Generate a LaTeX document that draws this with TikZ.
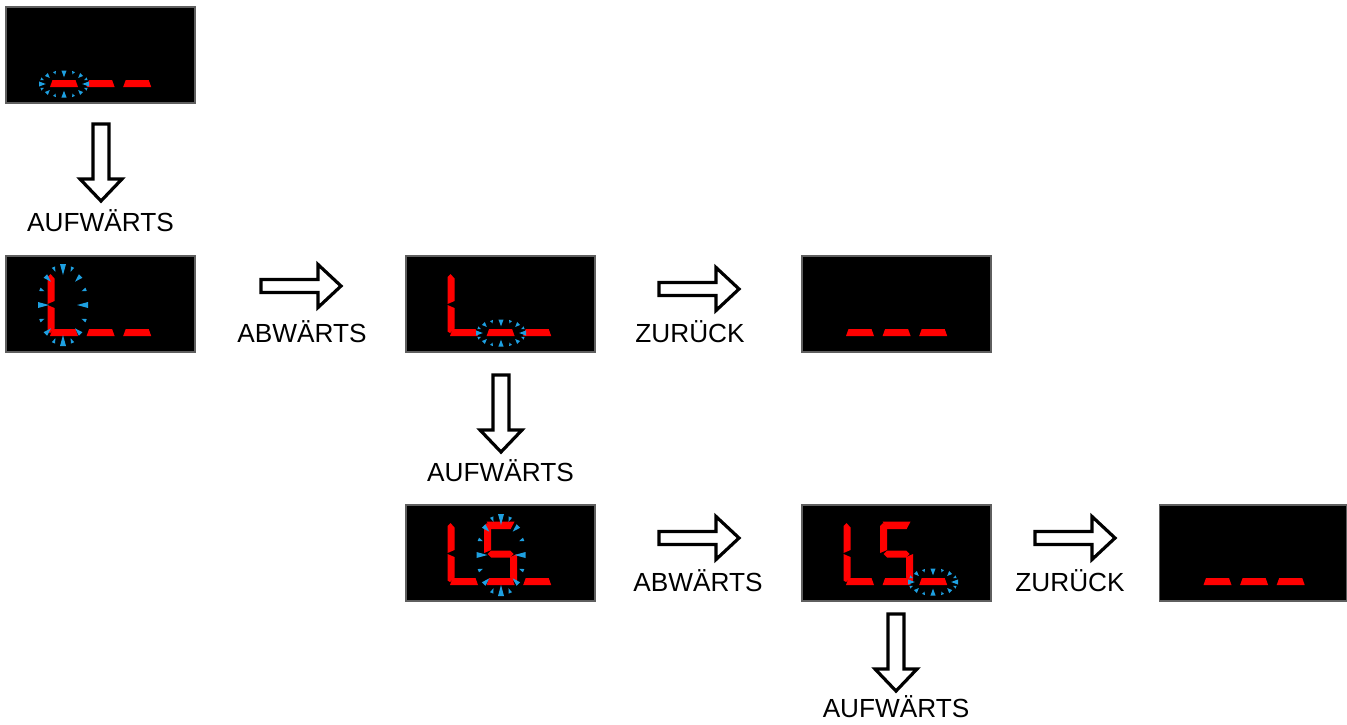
\documentclass[tikz,border=0pt]{standalone}
\usepackage{fontspec}
\setmainfont{Liberation Sans}
\definecolor{segred}{RGB}{255,0,0}
\definecolor{blink}{RGB}{30,160,225}
\definecolor{framegray}{RGB}{95,95,95}
% seven-segment pieces, local coords (digit left x = 0, box top y = 0)
\newcommand{\sgA}{\fill[segred] (0,16.5) -- (28,16.5) -- (24,24) -- (4,24) -- cycle;}
\newcommand{\sgD}{\fill[segred] (2.5,73) -- (25.5,73) -- (28,80) -- (0,80) -- cycle;}
\newcommand{\sgG}{\fill[segred] (1,49) -- (4.5,45.5) -- (23.5,45.5) -- (27,49) -- (23.5,52.5) -- (4.5,52.5) -- cycle;}
\newcommand{\sgF}{\fill[segred] (-2.5,21) -- (0.5,18) -- (4.5,22.5) -- (4.5,45) -- (-2.5,48) -- cycle;}
\newcommand{\sgE}{\fill[segred] (-2.5,49) -- (4.5,52) -- (4.5,72.5) -- (0,77) -- (-2.5,75.5) -- cycle;}
\newcommand{\sgC}{\fill[segred] (30.5,49) -- (23.5,52) -- (23.5,72.5) -- (28,77) -- (30.5,75.5) -- cycle;}
\newcommand{\digitat}[2]{\begin{scope}[shift={({44+36.6*#1},0)}]#2\end{scope}}
\newcommand{\digL}{\sgF\sgE\sgD}
\newcommand{\digS}{\sgA\sgF\sgG\sgC\sgD}
% blinking ring: centre x, centre y, rx, ry, length scale, width scale
\newcommand{\blinkring}[6]{%
  \foreach \a/\l/\w in {0/11/3,22.5/5/1.8,45/8/2.5,67.5/5/1.8,90/11/3,112.5/5/1.8,135/8/2.5,157.5/5/1.8,180/11/3,202.5/5/1.8,225/8/2.5,247.5/5/1.8,270/11/3,292.5/5/1.8,315/8/2.5,337.5/5/1.8}{%
    \fill[blink] ({#1+(#3-#5*\l)*cos(\a)},{#2+(#4-#5*\l)*sin(\a)})
      -- ({#1+#3*cos(\a)-#6*\w*sin(\a)},{#2+#4*sin(\a)+#6*\w*cos(\a)})
      -- ({#1+#3*cos(\a)+#6*\w*sin(\a)},{#2+#4*sin(\a)-#6*\w*cos(\a)}) -- cycle;}}
\tikzset{
  disp/.style={draw=framegray, line width=0.6pt, fill=black, minimum width=94.5pt,
    minimum height=48pt, inner sep=0pt, outer sep=0pt, anchor=north west},
  lbl/.style={anchor=base, inner sep=0pt, font=\fontsize{13.1}{15}\selectfont},
  blockarrow/.style={draw=black, line width=1.6pt, fill=white, line join=miter},
  rarrow/.pic={\path[blockarrow] (0,-6.5) -- (57,-6.5) -- (57,-21.5) -- (80,0) -- (57,21.5) -- (57,6.5) -- (0,6.5) -- cycle;},
  darrow/.pic={\path[blockarrow] (-8,0) -- (-8,55) -- (-21,55) -- (0,77) -- (21,55) -- (8,55) -- (8,0) -- cycle;}
}
\begin{document}
\begin{tikzpicture}[x=0.5pt,y=-0.5pt]
\useasboundingbox (0,0) rectangle (1347,724);
% displays
\node[disp] (d1) at (6,7) {};
\node[disp] (d2) at (6,256) {};
\node[disp] (d3) at (406,256) {};
\node[disp] (d4) at (802,256) {};
\node[disp] (d5) at (406,505) {};
\node[disp] (d6) at (802,505) {};
\node[disp, minimum width=93.5pt] (d7) at (1159.5,505) {};
% display contents
\begin{scope}[shift={(d1.north west)}]
  \digitat{0}{\sgD}\digitat{1}{\sgD}\digitat{2}{\sgD}
  \blinkring{58}{77}{25}{13.5}{0.62}{0.85}
\end{scope}
\begin{scope}[shift={(d2.north west)}]
  \digitat{0}{\digL}\digitat{1}{\sgD}\digitat{2}{\sgD}
  \blinkring{57}{49}{25}{41}{1}{1}
\end{scope}
\begin{scope}[shift={(d3.north west)}]
  \digitat{0}{\digL}\digitat{1}{\sgD}\digitat{2}{\sgD}
  \blinkring{95}{77}{25}{13.5}{0.62}{0.85}
\end{scope}
\begin{scope}[shift={(d4.north west)}]
  \digitat{0}{\sgD}\digitat{1}{\sgD}\digitat{2}{\sgD}
\end{scope}
\begin{scope}[shift={(d5.north west)}]
  \digitat{0}{\digL}\digitat{1}{\digS}\digitat{2}{\sgD}
  \blinkring{95}{50}{24.5}{41}{1}{1}
\end{scope}
\begin{scope}[shift={(d6.north west)}]
  \digitat{0}{\digL}\digitat{1}{\digS}\digitat{2}{\sgD}
  \blinkring{131}{77}{25}{13.5}{0.62}{0.85}
\end{scope}
\begin{scope}[shift={(d7.north west)}]
  \digitat{0}{\sgD}\digitat{1}{\sgD}\digitat{2}{\sgD}
\end{scope}
% block arrows
\pic (a1) at (101,124) {darrow};
\pic (a2) at (261,286) {rarrow};
\pic (a3) at (659,289) {rarrow};
\pic (a4) at (501,375) {darrow};
\pic (a5) at (659,538) {rarrow};
\pic (a6) at (1035,538) {rarrow};
\pic (a7) at (896,614) {darrow};
% labels
\node[lbl] (t1) at (100.5,231) {AUFWÄRTS};
\node[lbl] (t2) at (302,342) {ABWÄRTS};
\node[lbl] (t3) at (690,342) {ZURÜCK};
\node[lbl] (t4) at (500.5,481) {AUFWÄRTS};
\node[lbl] (t5) at (698,591) {ABWÄRTS};
\node[lbl] (t6) at (1070,591) {ZURÜCK};
\node[lbl] (t7) at (896,717) {AUFWÄRTS};
\end{tikzpicture}
\end{document}
